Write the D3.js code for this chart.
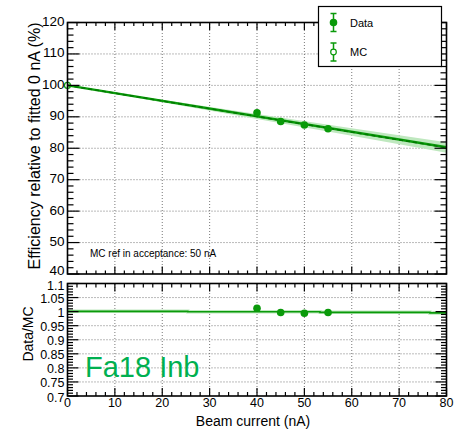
<!DOCTYPE html>
<html><head><meta charset="utf-8">
<script src="https://cdn.jsdelivr.net/npm/d3@7"></script>
<style>body{margin:0;background:#fff}svg{display:block;font-family:"Liberation Sans",Arial,sans-serif}</style>
</head><body><svg id="c" width="456" height="430"></svg>
<script>
// ---- data ----
const beamCurrent = [40, 45, 50, 55];
const dataEff = [91.3, 88.5, 87.4, 86.2];
const dataEffErr = [0.3, 0.3, 0.3, 0.3];
const ratioVals = [1.012, 0.997, 0.994, 0.997];
const ratioErr = [0.003, 0.003, 0.003, 0.003];
const mcX = [0];
const mcEff = [100];
const fitX = [0, 80];
const fitY = [100, 80.3];
const mcFitY = [100, 80.2];
const bandX = [0, 20, 40, 60, 80];
const bandLo = [100, 94.6, 89.3, 84.0, 78.6];
const bandHi = [100, 95.4, 90.9, 86.4, 81.9];
const ratioStepX = [0, 25.4, 53.3, 76.5, 80];
const ratioStepY = [1.001, 0.9995, 0.9975, 0.9955, 0.9955];
const xTicks = [0, 10, 20, 30, 40, 50, 60, 70, 80];
const yTicksTop = [40, 50, 60, 70, 80, 90, 100, 110, 120];
const yTicksBot = ["0.7", "0.75", "0.8", "0.85", "0.9", "0.95", "1", "1.05", "1.1"];

const svg = d3.select("#c");
const L = 67.5, R = 446.5;
const x = d3.scaleLinear().domain([0, 80]).range([L, R]);
const yT = d3.scaleLinear().domain([40, 120]).range([274, 22.5]);
const yB = d3.scaleLinear().domain([0.7, 1.1]).range([396, 283.5]);
const green = "#0a9a0a", dark = "#007a00", band = "#bfe8bf";

function grid(y, yvals) {
  const g = svg.append("g").attr("stroke", "#555").attr("stroke-width", 0.8).attr("stroke-dasharray", "1,2");
  xTicks.slice(1, -1).forEach(v => g.append("line").attr("x1", x(v)).attr("x2", x(v)).attr("y1", y.range()[0]).attr("y2", y.range()[1]));
  yvals.forEach(v => g.append("line").attr("x1", L).attr("x2", R).attr("y1", y(v)).attr("y2", y(v)));
}
grid(yT, [50, 60, 70, 80, 90, 100, 110]);
grid(yB, [0.75, 0.8, 0.85, 0.9, 0.95, 1.0, 1.05]);

function ticks(y, xMaj, xMin, yMaj, yMin, yStepMinor) {
  const g = svg.append("g").attr("stroke", "#000").attr("stroke-width", 1.2);
  const [y0, y1] = y.range();
  for (let v = 0; v <= 80 + 1e-9; v += 2) {
    const len = (Math.round(v) % 10 === 0) ? xMaj : xMin;
    g.append("line").attr("x1", x(v)).attr("x2", x(v)).attr("y1", y0).attr("y2", y0 - len);
    g.append("line").attr("x1", x(v)).attr("x2", x(v)).attr("y1", y1).attr("y2", y1 + len);
  }
  const [d0, d1] = y.domain();
  const n = Math.round((d1 - d0) / yStepMinor);
  for (let i = 0; i <= n; i++) {
    const v = d0 + i * yStepMinor;
    const len = (i % 5 === 0) ? yMaj : yMin;
    g.append("line").attr("x1", L).attr("x2", L + len).attr("y1", y(v)).attr("y2", y(v));
    g.append("line").attr("x1", R).attr("x2", R - len).attr("y1", y(v)).attr("y2", y(v));
  }
}

// ---- top panel marks ----
const area = d3.area().x((d, i) => x(bandX[i])).y0((d, i) => yT(bandLo[i])).y1((d, i) => yT(bandHi[i]));
svg.append("path").attr("d", area(bandX)).attr("fill", band);
const line = d3.line().x((d, i) => x(fitX[i])).y(d => yT(d));
svg.append("path").attr("d", line(fitY)).attr("fill", "none").attr("stroke", green).attr("stroke-width", 2.5);
svg.append("path").attr("d", line(mcFitY)).attr("fill", "none").attr("stroke", dark).attr("stroke-width", 1.5).attr("stroke-dasharray", "4,3");
beamCurrent.forEach((c, i) => {
  svg.append("line").attr("x1", x(c)).attr("x2", x(c)).attr("y1", yT(dataEff[i] - dataEffErr[i])).attr("y2", yT(dataEff[i] + dataEffErr[i])).attr("stroke", green).attr("stroke-width", 1.5);
  svg.append("circle").attr("cx", x(c)).attr("cy", yT(dataEff[i])).attr("r", 3.8).attr("fill", green);
});
mcX.forEach((c, i) => svg.append("circle").attr("cx", x(c)).attr("cy", yT(mcEff[i])).attr("r", 3).attr("fill", "none").attr("stroke", green).attr("stroke-width", 1.2));

// ---- bottom panel marks ----
const stepLine = d3.line().curve(d3.curveStepAfter).x((d, i) => x(ratioStepX[i])).y(d => yB(d));
svg.append("path").attr("d", stepLine(ratioStepY)).attr("fill", "none").attr("stroke", "#bfe8bf").attr("stroke-width", 3.5);
svg.append("path").attr("d", stepLine(ratioStepY)).attr("fill", "none").attr("stroke", green).attr("stroke-width", 1.6);
beamCurrent.forEach((c, i) => {
  svg.append("line").attr("x1", x(c)).attr("x2", x(c)).attr("y1", yB(ratioVals[i] - ratioErr[i])).attr("y2", yB(ratioVals[i] + ratioErr[i])).attr("stroke", green).attr("stroke-width", 1.5);
  svg.append("circle").attr("cx", x(c)).attr("cy", yB(ratioVals[i])).attr("r", 3.8).attr("fill", green);
});

ticks(yT, 7.5, 3.5, 12, 6, 2);
ticks(yB, 8, 4, 11, 5.5, 0.01);

// frames
[yT, yB].forEach(y => {
  svg.append("rect").attr("x", L).attr("y", y.range()[1]).attr("width", R - L).attr("height", y.range()[0] - y.range()[1])
    .attr("fill", "none").attr("stroke", "#000").attr("stroke-width", 1.6);
});

// tick labels (edge labels nudged apart where the two panels meet)
const tl = svg.append("g").attr("fill", "#000");
yTicksTop.forEach((v, i) => tl.append("text").attr("x", 64.5).attr("y", yT(v) + (i === 0 ? 1 : 3.5)).attr("text-anchor", "end").attr("font-size", 13.5).text(v));
yTicksBot.forEach((v, i) => tl.append("text").attr("x", 64.5).attr("y", yB(+v) + (i === yTicksBot.length - 1 ? 6.5 : 5.5)).attr("text-anchor", "end").attr("font-size", 12.5).text(v));
xTicks.forEach(v => tl.append("text").attr("x", x(v)).attr("y", 407).attr("text-anchor", "middle").attr("font-size", 12.5).text(v));

// axis titles
svg.append("text").attr("transform", "translate(40,146) rotate(-90)").attr("text-anchor", "middle").attr("font-size", 16).text("Efficiency relative to fitted 0 nA (%)");
svg.append("text").attr("transform", "translate(33,334) rotate(-90)").attr("text-anchor", "middle").attr("font-size", 14).text("Data/MC");
svg.append("text").attr("x", 253).attr("y", 426).attr("text-anchor", "middle").attr("font-size", 14).text("Beam current (nA)");

svg.append("text").attr("x", 90).attr("y", 257).attr("font-size", 10).text("MC ref in acceptance: 50 nA");
svg.append("text").attr("x", 85).attr("y", 377).attr("font-size", 29).attr("fill", "#00b050").text("Fa18 Inb");

// legend
const lg = svg.append("g");
lg.append("rect").attr("x", 318.5).attr("y", 6.5).attr("width", 123).attr("height", 60).attr("fill", "#fff").attr("stroke", "#000").attr("stroke-width", 1.2);
function legEntry(cy, filled, label) {
  lg.append("line").attr("x1", 333.5).attr("x2", 333.5).attr("y1", cy - 9).attr("y2", cy + 9).attr("stroke", green).attr("stroke-width", 1.5);
  [cy - 9, cy + 9].forEach(yy => lg.append("line").attr("x1", 330.5).attr("x2", 336.5).attr("y1", yy).attr("y2", yy).attr("stroke", green).attr("stroke-width", 1.5));
  lg.append("circle").attr("cx", 333.5).attr("cy", cy).attr("r", filled ? 3.2 : 2.8).attr("fill", filled ? green : "#fff").attr("stroke", green).attr("stroke-width", 1.2);
  lg.append("text").attr("x", 350).attr("y", cy + 4).attr("font-size", 11).text(label);
}
legEntry(22.5, true, "Data");
legEntry(52, false, "MC");
</script></body></html>
